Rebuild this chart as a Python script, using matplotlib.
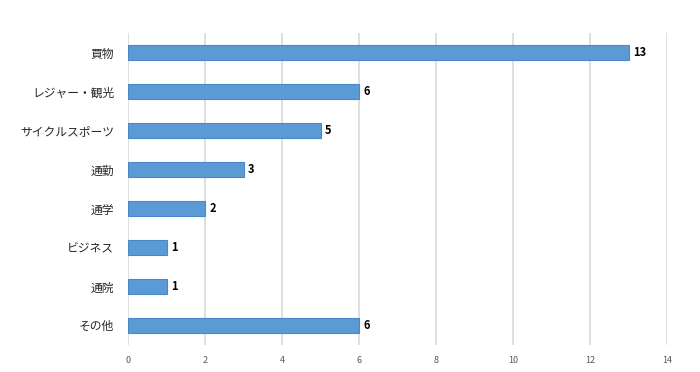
import matplotlib.pyplot as plt

plt.rcParams['font.family'] = ['Noto Sans CJK JP', 'DejaVu Sans']

# data, top to bottom as in the chart
categories = ['買物', 'レジャー・観光', 'サイクルスポーツ', '通勤', '通学', 'ビジネス', '通院', 'その他']
counts = [13, 6, 5, 3, 2, 1, 1, 6]
xticks = [0, 2, 4, 6, 8, 10, 12, 14]

fig = plt.figure(figsize=(7, 3.72), dpi=100)
ax = fig.add_axes([0.183, 0.073, 0.770, 0.838])

pos = list(range(len(categories)))
ax.barh(pos, counts, height=0.37, color='#5B9BD5', edgecolor='#4A87C9', linewidth=0.8, zorder=3)
for p, v in zip(pos, counts):
    ax.text(v + 0.12, p, str(v), va='center', ha='left', fontsize=8, fontweight='bold', color='#000000')

ax.set_ylim(len(categories) - 0.5, -0.5)
ax.set_xlim(0, 14)
ax.set_yticks(pos)
ax.set_yticklabels(categories, fontsize=8.5, color='#262626')
ax.set_xticks(xticks)
ax.set_xticklabels([str(t) for t in xticks], fontsize=6.5, color='#595959')
ax.tick_params(axis='both', length=0, pad=8)
ax.tick_params(axis='y', pad=10)
ax.grid(axis='x', color='#D9D9D9', linewidth=1.2, zorder=0)
for s in ax.spines.values():
    s.set_visible(False)

fig.savefig('out.png', dpi=100)
